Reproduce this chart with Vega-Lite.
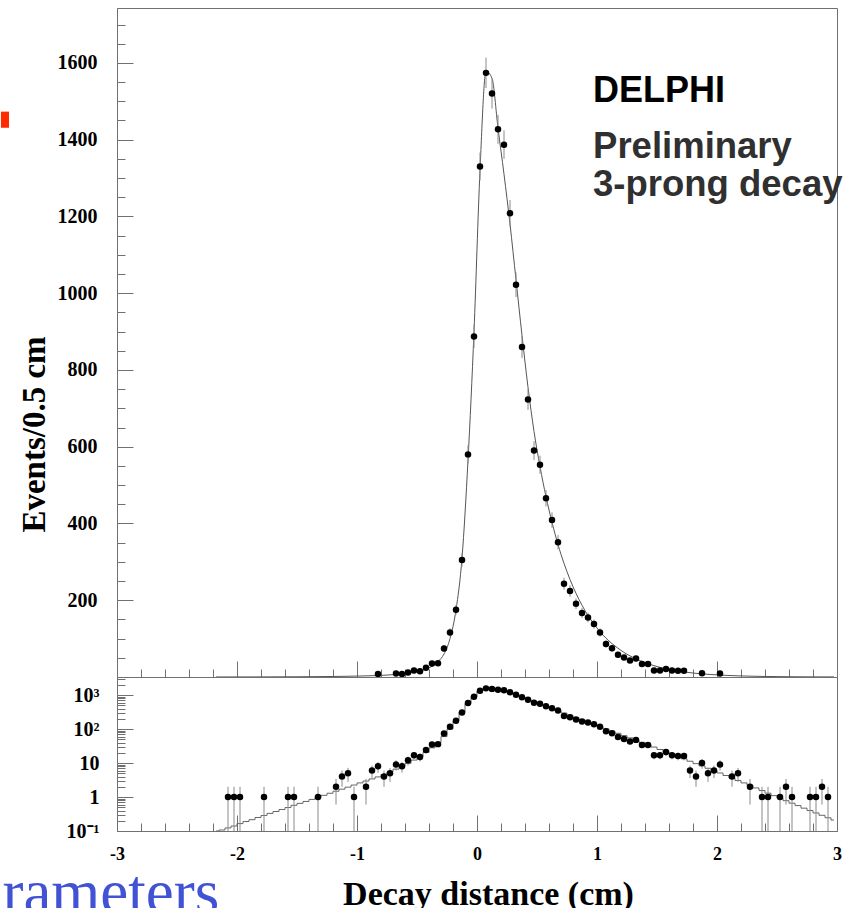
{
  "$schema": "https://vega.github.io/schema/vega-lite/v6.json",
  "padding": {"left": 0, "top": 7, "right": 0, "bottom": 0},
  "background": "white",
  "spacing": 0,
  "bounds": "flush",
  "config": {
    "view": {"stroke": "#707070", "strokeWidth": 1},
    "axis": {"domainColor": "#707070", "tickColor": "#707070", "labelFont": "Liberation Serif", "labelFontWeight": "bold", "labelColor": "#000", "titleFont": "Liberation Serif", "titleFontWeight": "bold", "titleColor": "#000", "grid": false, "labelFlush": false, "labelOverlap": false}
  },
  "datasets": {
    "pts": [
      {"x": -2.075, "n": 1, "e": 1}, {"x": -2.025, "n": 1, "e": 1}, {"x": -1.975, "n": 1, "e": 1}, {"x": -1.775, "n": 1, "e": 1},
      {"x": -1.575, "n": 1, "e": 1}, {"x": -1.525, "n": 1, "e": 1}, {"x": -1.325, "n": 1, "e": 1}, {"x": -1.175, "n": 2, "e": 1.4},
      {"x": -1.125, "n": 4, "e": 2}, {"x": -1.075, "n": 5, "e": 2.2}, {"x": -1.025, "n": 1, "e": 1}, {"x": -0.925, "n": 2, "e": 1.4},
      {"x": -0.875, "n": 6, "e": 2.4}, {"x": -0.825, "n": 8, "e": 2.8}, {"x": -0.775, "n": 4, "e": 2}, {"x": -0.725, "n": 5, "e": 2.2},
      {"x": -0.675, "n": 9, "e": 3}, {"x": -0.625, "n": 8, "e": 2.8}, {"x": -0.575, "n": 12, "e": 3.5}, {"x": -0.525, "n": 17, "e": 4.1},
      {"x": -0.475, "n": 15, "e": 3.9}, {"x": -0.425, "n": 24, "e": 4.9}, {"x": -0.375, "n": 35, "e": 5.9}, {"x": -0.325, "n": 36, "e": 6},
      {"x": -0.275, "n": 74, "e": 8.6}, {"x": -0.225, "n": 116, "e": 10.8}, {"x": -0.175, "n": 175, "e": 13.2}, {"x": -0.125, "n": 305, "e": 17.5},
      {"x": -0.075, "n": 580, "e": 24}, {"x": -0.025, "n": 887, "e": 29.8}, {"x": 0.025, "n": 1330, "e": 36.5}, {"x": 0.075, "n": 1574, "e": 39.7},
      {"x": 0.125, "n": 1520, "e": 39}, {"x": 0.175, "n": 1427, "e": 37.8}, {"x": 0.225, "n": 1387, "e": 37.2}, {"x": 0.275, "n": 1208, "e": 34.8},
      {"x": 0.325, "n": 1022, "e": 32}, {"x": 0.375, "n": 860, "e": 29.3}, {"x": 0.425, "n": 723, "e": 26.9}, {"x": 0.475, "n": 590, "e": 24.3},
      {"x": 0.525, "n": 553, "e": 23.5}, {"x": 0.575, "n": 466, "e": 21.6}, {"x": 0.625, "n": 409, "e": 20.2}, {"x": 0.675, "n": 351, "e": 18.7},
      {"x": 0.725, "n": 243, "e": 15.6}, {"x": 0.775, "n": 224, "e": 15}, {"x": 0.825, "n": 191, "e": 13.8}, {"x": 0.875, "n": 167, "e": 12.9},
      {"x": 0.925, "n": 155, "e": 12.4}, {"x": 0.975, "n": 138, "e": 11.7}, {"x": 1.025, "n": 116, "e": 10.8}, {"x": 1.075, "n": 86, "e": 9.3},
      {"x": 1.125, "n": 75, "e": 8.7}, {"x": 1.175, "n": 58, "e": 7.6}, {"x": 1.225, "n": 51, "e": 7.1}, {"x": 1.275, "n": 43, "e": 6.6},
      {"x": 1.325, "n": 48, "e": 6.9}, {"x": 1.375, "n": 34, "e": 5.8}, {"x": 1.425, "n": 34, "e": 5.8}, {"x": 1.475, "n": 17, "e": 4.1},
      {"x": 1.525, "n": 17, "e": 4.1}, {"x": 1.575, "n": 21, "e": 4.6}, {"x": 1.625, "n": 17, "e": 4.1}, {"x": 1.675, "n": 16, "e": 4},
      {"x": 1.725, "n": 16, "e": 4}, {"x": 1.775, "n": 6, "e": 2.4}, {"x": 1.825, "n": 4, "e": 2}, {"x": 1.875, "n": 10, "e": 3.2},
      {"x": 1.925, "n": 5, "e": 2.2}, {"x": 1.975, "n": 6, "e": 2.4}, {"x": 2.025, "n": 9, "e": 3}, {"x": 2.125, "n": 4, "e": 2},
      {"x": 2.175, "n": 5, "e": 2.2}, {"x": 2.275, "n": 2, "e": 1.4}, {"x": 2.375, "n": 1, "e": 1}, {"x": 2.425, "n": 1, "e": 1},
      {"x": 2.525, "n": 1, "e": 1}, {"x": 2.575, "n": 2, "e": 1.4}, {"x": 2.625, "n": 1, "e": 1}, {"x": 2.775, "n": 1, "e": 1},
      {"x": 2.825, "n": 1, "e": 1}, {"x": 2.875, "n": 2, "e": 1.4}, {"x": 2.925, "n": 1, "e": 1}
    ],
    "fit": [
      {"x": -2.175, "f": 0.09}, {"x": -2.125, "f": 0.107}, {"x": -2.075, "f": 0.123}, {"x": -2.025, "f": 0.14},
      {"x": -1.975, "f": 0.165}, {"x": -1.925, "f": 0.19}, {"x": -1.875, "f": 0.215}, {"x": -1.825, "f": 0.25},
      {"x": -1.775, "f": 0.285}, {"x": -1.725, "f": 0.33}, {"x": -1.675, "f": 0.375}, {"x": -1.625, "f": 0.43},
      {"x": -1.575, "f": 0.49}, {"x": -1.525, "f": 0.57}, {"x": -1.475, "f": 0.65}, {"x": -1.425, "f": 0.74},
      {"x": -1.375, "f": 0.85}, {"x": -1.325, "f": 0.98}, {"x": -1.275, "f": 1.12}, {"x": -1.225, "f": 1.29},
      {"x": -1.175, "f": 1.48}, {"x": -1.125, "f": 1.7}, {"x": -1.075, "f": 1.95}, {"x": -1.025, "f": 2.25},
      {"x": -0.975, "f": 2.6}, {"x": -0.925, "f": 2.95}, {"x": -0.875, "f": 3.4}, {"x": -0.825, "f": 3.9},
      {"x": -0.775, "f": 4.6}, {"x": -0.725, "f": 5.5}, {"x": -0.675, "f": 6.6}, {"x": -0.625, "f": 8},
      {"x": -0.575, "f": 9.8}, {"x": -0.525, "f": 12.2}, {"x": -0.475, "f": 15.5}, {"x": -0.425, "f": 20.5},
      {"x": -0.375, "f": 28}, {"x": -0.325, "f": 40}, {"x": -0.275, "f": 60}, {"x": -0.225, "f": 100},
      {"x": -0.175, "f": 175}, {"x": -0.125, "f": 310}, {"x": -0.075, "f": 565}, {"x": -0.025, "f": 900},
      {"x": 0.025, "f": 1320}, {"x": 0.075, "f": 1578}, {"x": 0.125, "f": 1560}, {"x": 0.175, "f": 1430},
      {"x": 0.225, "f": 1310}, {"x": 0.275, "f": 1180}, {"x": 0.325, "f": 1035}, {"x": 0.375, "f": 890},
      {"x": 0.425, "f": 755}, {"x": 0.475, "f": 640}, {"x": 0.525, "f": 548}, {"x": 0.575, "f": 470},
      {"x": 0.625, "f": 403}, {"x": 0.675, "f": 345}, {"x": 0.725, "f": 296}, {"x": 0.775, "f": 254},
      {"x": 0.825, "f": 218}, {"x": 0.875, "f": 187}, {"x": 0.925, "f": 160}, {"x": 0.975, "f": 138},
      {"x": 1.025, "f": 118}, {"x": 1.075, "f": 101}, {"x": 1.125, "f": 87}, {"x": 1.175, "f": 75},
      {"x": 1.225, "f": 64}, {"x": 1.275, "f": 55}, {"x": 1.325, "f": 47}, {"x": 1.375, "f": 40.5},
      {"x": 1.425, "f": 34.5}, {"x": 1.475, "f": 29.5}, {"x": 1.525, "f": 25}, {"x": 1.575, "f": 21.5},
      {"x": 1.625, "f": 18.3}, {"x": 1.675, "f": 15.6}, {"x": 1.725, "f": 13.3}, {"x": 1.775, "f": 11.3},
      {"x": 1.825, "f": 9.6}, {"x": 1.875, "f": 8.2}, {"x": 1.925, "f": 7}, {"x": 1.975, "f": 6},
      {"x": 2.025, "f": 5.1}, {"x": 2.075, "f": 4.3}, {"x": 2.125, "f": 3.6}, {"x": 2.175, "f": 3.05},
      {"x": 2.225, "f": 2.6}, {"x": 2.275, "f": 2.2}, {"x": 2.325, "f": 1.85}, {"x": 2.375, "f": 1.55},
      {"x": 2.425, "f": 1.3}, {"x": 2.475, "f": 1.1}, {"x": 2.525, "f": 0.93}, {"x": 2.575, "f": 0.78},
      {"x": 2.625, "f": 0.66}, {"x": 2.675, "f": 0.56}, {"x": 2.725, "f": 0.47}, {"x": 2.775, "f": 0.4},
      {"x": 2.825, "f": 0.34}, {"x": 2.875, "f": 0.29}, {"x": 2.925, "f": 0.245}, {"x": 2.975, "f": 0.21}
    ],
    "labels1": [{"x": 0.967, "y": 1497, "t": "DELPHI"}],
    "labels2": [{"x": 0.967, "y": 1352, "t": "Preliminary"}, {"x": 0.967, "y": 1253, "t": "3-prong decay"}],
    "marker": [{"x": -3.967, "x2": -3.9, "y": 1431, "y2": 1473}],
    "slide": [{"x": -3.955, "y": -615, "t": "rameters"}]
  },
  "vconcat": [
    {
      "width": 720,
      "height": 669,
      "resolve": {"axis": {"x": "independent", "y": "independent"}},
      "layer": [
        {
          "data": {"name": "fit"},
          "mark": {"type": "line", "interpolate": "monotone", "color": "#555555", "strokeWidth": 1},
          "encoding": {
            "x": {"field": "x", "type": "quantitative", "scale": {"domain": [-3, 3], "nice": false},
              "axis": {"orient": "bottom", "values": [-3, -2, -1, 0, 1, 2, 3], "tickSize": -16, "labels": false, "title": null}},
            "y": {"field": "f", "type": "quantitative", "scale": {"domain": [0, 1743], "nice": false, "zero": false},
              "axis": {"orient": "left", "values": [200, 400, 600, 800, 1000, 1200, 1400, 1600], "format": "d", "tickSize": -16, "labelFontSize": 20, "labelPadding": 36,
                "title": "Events/0.5 cm", "titleFontSize": 33, "titleX": -73, "titleY": 426, "titleAngle": -90, "titleAlign": "center", "titleBaseline": "alphabetic"}}
          }
        },
        {
          "data": {"name": "pts"},
          "transform": [{"filter": "datum.n >= 8"}],
          "mark": {"type": "errorbar", "color": "#8a8a8a", "thickness": 1},
          "encoding": {
            "x": {"field": "x", "type": "quantitative", "axis": null},
            "y": {"field": "n", "type": "quantitative", "axis": null},
            "yError": {"field": "e"}
          }
        },
        {
          "data": {"name": "pts"},
          "transform": [{"filter": "datum.n >= 8"}],
          "mark": {"type": "circle", "size": 42, "color": "#000000", "opacity": 1},
          "encoding": {
            "x": {"field": "x", "type": "quantitative",
              "axis": {"orient": "bottom", "values": [-2.8, -2.6, -2.4, -2.2, -1.8, -1.6, -1.4, -1.2, -0.8, -0.6, -0.4, -0.2, 0.2, 0.4, 0.6, 0.8, 1.2, 1.4, 1.6, 1.8, 2.2, 2.4, 2.6, 2.8], "tickSize": -8, "labels": false, "title": null, "domain": false}},
            "y": {"field": "n", "type": "quantitative",
              "axis": {"orient": "left", "values": [50, 100, 150, 250, 300, 350, 450, 500, 550, 650, 700, 750, 850, 900, 950, 1050, 1100, 1150, 1250, 1300, 1350, 1450, 1500, 1550, 1650, 1700], "tickSize": -8, "labels": false, "title": null, "domain": false}}
          }
        },
        {
          "data": {"name": "labels1"},
          "mark": {"type": "text", "align": "left", "baseline": "alphabetic", "font": "Liberation Sans", "fontWeight": "bold", "fontSize": 36, "color": "#000000"},
          "encoding": {
            "x": {"field": "x", "type": "quantitative", "axis": null},
            "y": {"field": "y", "type": "quantitative", "axis": null},
            "text": {"field": "t"}
          }
        },
        {
          "data": {"name": "labels2"},
          "mark": {"type": "text", "align": "left", "baseline": "alphabetic", "font": "Liberation Sans", "fontWeight": "bold", "fontSize": 36.5, "color": "#303030"},
          "encoding": {
            "x": {"field": "x", "type": "quantitative", "axis": null},
            "y": {"field": "y", "type": "quantitative", "axis": null},
            "text": {"field": "t"}
          }
        },
        {
          "data": {"name": "marker"},
          "mark": {"type": "rect", "color": "#ff2a00"},
          "encoding": {
            "x": {"field": "x", "type": "quantitative", "axis": null},
            "x2": {"field": "x2"},
            "y": {"field": "y", "type": "quantitative", "axis": null},
            "y2": {"field": "y2"}
          }
        },
        {
          "data": {"name": "slide"},
          "mark": {"type": "text", "align": "left", "baseline": "alphabetic", "font": "Liberation Serif", "fontSize": 63, "color": "#4152d4"},
          "encoding": {
            "x": {"field": "x", "type": "quantitative", "axis": null},
            "y": {"field": "y", "type": "quantitative", "axis": null},
            "text": {"field": "t"}
          }
        }
      ]
    },
    {
      "width": 720,
      "height": 154,
      "resolve": {"axis": {"x": "independent", "y": "independent"}},
      "layer": [
        {
          "data": {"name": "fit"},
          "mark": {"type": "line", "interpolate": "step", "color": "#666666", "strokeWidth": 1},
          "encoding": {
            "x": {"field": "x", "type": "quantitative", "scale": {"domain": [-3, 3], "nice": false},
              "axis": {"orient": "bottom", "values": [-3, -2, -1, 0, 1, 2, 3], "tickSize": -16, "labelFontSize": 18, "labelPadding": 30, "labelExpr": "'' + datum.value",
                "title": "Decay distance (cm)", "titleFontSize": 34, "titleX": 371, "titleY": 73, "titleAlign": "center", "titleBaseline": "alphabetic"}},
            "y": {"field": "f", "type": "quantitative", "scale": {"type": "log", "domain": [0.1, 3400], "nice": false, "clamp": true},
              "axis": {"orient": "left", "values": [0.1, 1, 10, 100, 1000], "tickSize": -16, "labelFontSize": 20, "labelPadding": 34, "title": null,
                "labelExpr": "datum.value >= 999 ? '10³' : datum.value >= 99 ? '10²' : datum.value >= 9 ? '10' : datum.value >= 0.9 ? '1' : '10⁻¹'"}}
          }
        },
        {
          "data": {"name": "pts"},
          "mark": {"type": "errorbar", "color": "#8a8a8a", "thickness": 1},
          "encoding": {
            "x": {"field": "x", "type": "quantitative", "axis": null},
            "y": {"field": "n", "type": "quantitative", "axis": null},
            "yError": {"field": "e"}
          }
        },
        {
          "data": {"name": "pts"},
          "mark": {"type": "circle", "size": 42, "color": "#000000", "opacity": 1},
          "encoding": {
            "x": {"field": "x", "type": "quantitative",
              "axis": {"orient": "bottom", "values": [-2.8, -2.6, -2.4, -2.2, -1.8, -1.6, -1.4, -1.2, -0.8, -0.6, -0.4, -0.2, 0.2, 0.4, 0.6, 0.8, 1.2, 1.4, 1.6, 1.8, 2.2, 2.4, 2.6, 2.8], "tickSize": -8, "labels": false, "title": null, "domain": false}},
            "y": {"field": "n", "type": "quantitative",
              "axis": {"orient": "left", "values": [0.2, 0.3, 0.4, 0.5, 0.6, 0.7, 0.8, 0.9, 2, 3, 4, 5, 6, 7, 8, 9, 20, 30, 40, 50, 60, 70, 80, 90, 200, 300, 400, 500, 600, 700, 800, 900, 2000, 3000], "tickSize": -8, "labels": false, "title": null, "domain": false}}
          }
        }
      ]
    }
  ]
}
